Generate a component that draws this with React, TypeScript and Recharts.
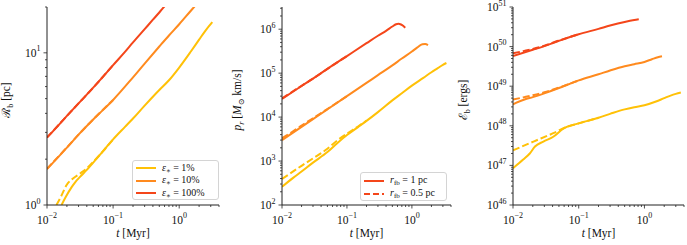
import { LineChart, Line, XAxis, YAxis, Legend } from "recharts";

type Pt = [number, number];

const YELLOW = "#ffc107";
const ORANGE = "#ff8a1e";
const RED = "#f4461a";
const SERIF = "'Liberation Serif', 'DejaVu Serif', serif";

// shared time axis range [Myr]
const tRange: [number, number] = [0.01, 4];

// --- panel 1: bubble radius R_b [pc]
const rbYellow: Pt[] = [
  [0.0166, 1.0], [0.019, 1.12], [0.0236, 1.31], [0.027, 1.42], [0.0316, 1.53],
  [0.04, 1.7], [0.05, 1.9], [0.07, 2.25], [0.1, 2.7], [0.15, 3.25], [0.2, 3.7],
  [0.3, 4.5], [0.5, 5.7], [0.7, 6.6], [1.0, 8.0], [1.5, 10.2], [2.0, 12.2],
  [2.5, 14.0], [3.17, 15.9],
];
const rbYellowDash: Pt[] = [
  [0.0139, 1.0], [0.0165, 1.15], [0.0197, 1.35], [0.025, 1.5], [0.0316, 1.61],
  [0.04, 1.74], [0.05, 1.92], [0.07, 2.25], [0.1, 2.7],
];
const rbOrange: Pt[] = [
  [0.01, 1.72], [0.015, 2.08], [0.02, 2.38], [0.03, 2.9], [0.05, 3.65], [0.07, 4.2],
  [0.1, 4.9], [0.2, 6.9], [0.3, 8.5], [0.5, 11.0], [0.7, 13.0], [1.0, 15.4],
  [1.5, 18.9], [1.8, 20.7],
];
const rbOrangeDash: Pt[] = [
  [0.01, 1.73], [0.015, 2.09], [0.02, 2.39], [0.03, 2.9], [0.05, 3.65], [0.1, 4.9],
];
const rbRed: Pt[] = [
  [0.01, 2.77], [0.015, 3.35], [0.02, 3.85], [0.03, 4.65], [0.05, 5.9], [0.07, 6.95],
  [0.1, 8.3], [0.15, 10.1], [0.2, 11.7], [0.3, 14.3], [0.4, 16.5], [0.5, 18.4],
  [0.6, 20.2], [0.65, 20.8],
];
const rbRedDash: Pt[] = [
  [0.01, 2.78], [0.015, 3.36], [0.02, 3.85], [0.03, 4.65], [0.05, 5.9], [0.1, 8.3],
];

// --- panel 2: radial momentum p_r [Msun km/s]
const prYellow: Pt[] = [
  [0.01, 260], [0.015, 420], [0.02, 580], [0.03, 920], [0.05, 1600], [0.07, 2500],
  [0.1, 3900], [0.15, 6000], [0.2, 8200], [0.3, 13000], [0.5, 24000], [0.7, 35000],
  [1.0, 52000], [1.5, 78000], [2.0, 105000], [2.5, 130000], [3.0, 155000], [3.4, 170000],
];
const prYellowDash: Pt[] = [
  [0.01, 390], [0.02, 780], [0.03, 1150], [0.05, 1900], [0.07, 2900], [0.1, 4200],
  [0.15, 6200], [0.2, 8300],
];
const prOrange: Pt[] = [
  [0.01, 3000], [0.02, 6000], [0.03, 9000], [0.05, 15000], [0.1, 30000], [0.2, 60000],
  [0.3, 90000], [0.5, 150000], [0.7, 215000], [1.0, 310000], [1.2, 380000],
  [1.45, 455000], [1.6, 460000], [1.77, 435000],
];
const prOrangeDash: Pt[] = [
  [0.01, 3300], [0.015, 4800], [0.02, 6400], [0.03, 9400], [0.05, 15300], [0.1, 30000],
];
const prRed: Pt[] = [
  [0.01, 26000], [0.02, 51000], [0.03, 75000], [0.05, 125000], [0.1, 245000],
  [0.2, 480000], [0.3, 710000], [0.4, 920000], [0.5, 1150000], [0.57, 1300000],
  [0.62, 1330000], [0.68, 1280000], [0.74, 1180000], [0.79, 1080000],
];
const prRedDash: Pt[] = [
  [0.01, 26500], [0.02, 51500], [0.03, 75000], [0.05, 125000], [0.1, 245000],
];

// --- panel 3: bubble energy E_b [erg]
const ebYellow: Pt[] = [
  [0.01, 8.5e46], [0.0143, 1.4e47], [0.018, 2.0e47], [0.0216, 3.0e47], [0.029, 4.0e47],
  [0.041, 5.3e47], [0.059, 8.6e47], [0.1, 1.15e48], [0.2, 1.6e48], [0.3, 2.0e48],
  [0.5, 2.6e48], [0.7, 2.95e48], [1.0, 3.3e48], [1.5, 4.1e48], [2.0, 5.0e48],
  [2.5, 5.8e48], [3.0, 6.4e48], [3.58, 6.9e48],
];
const ebYellowDash: Pt[] = [
  [0.01, 2.4e47], [0.0205, 4.0e47], [0.041, 6.5e47], [0.066, 9.4e47], [0.1, 1.15e48],
  [0.2, 1.6e48],
];
const ebOrange: Pt[] = [
  [0.01, 3.5e48], [0.015, 4.6e48], [0.02, 5.3e48], [0.03, 6.6e48], [0.05, 9.0e48],
  [0.07, 1.12e49], [0.1, 1.4e49], [0.2, 2.0e49], [0.3, 2.5e49], [0.5, 3.2e49],
  [0.7, 3.6e49], [1.0, 4.1e49], [1.3, 4.8e49], [1.6, 5.4e49], [1.85, 5.7e49],
];
const ebOrangeDash: Pt[] = [
  [0.01, 4.6e48], [0.015, 5.3e48], [0.02, 5.9e48], [0.03, 7.0e48], [0.05, 9.2e48],
  [0.1, 1.4e49],
];
const ebRed: Pt[] = [
  [0.01, 5.8e49], [0.02, 8.3e49], [0.03, 1.03e50], [0.05, 1.4e50], [0.07, 1.7e50],
  [0.1, 2.05e50], [0.2, 2.8e50], [0.3, 3.4e50], [0.5, 4.2e50], [0.7, 4.7e50], [0.82, 4.9e50],
];
const ebRedDash: Pt[] = [
  [0.01, 6.8e49], [0.015, 7.8e49], [0.02, 8.7e49], [0.03, 1.05e50], [0.05, 1.42e50],
  [0.1, 2.05e50],
];

const effLabels = ["1%", "10%", "100%"];
const effColors = [YELLOW, ORANGE, RED];
const rfbLabels = ["1 pc", "0.5 pc"];

const logTicks = (lo: number, hi: number) => {
  const out: number[] = [];
  for (let e = Math.floor(Math.log10(lo)); e <= Math.ceil(Math.log10(hi)); e++) {
    for (let m = 1; m < 10; m++) {
      const v = m * Math.pow(10, e);
      if (v >= lo * 0.999 && v <= hi * 1.001) out.push(v);
    }
  }
  return out;
};

const expOf = (v: number) => {
  const e = Math.round(Math.log10(v));
  const major = Math.abs(v / Math.pow(10, e) - 1) < 1e-6;
  return { e, major };
};
const expText = (e: number) => (e < 0 ? "\u2212" + -e : String(e));

const XTick = (p: any) => {
  const { x, y, payload } = p;
  const { e, major } = expOf(payload.value);
  return (
    <g>
      <line x1={x} x2={x} y1={y} y2={y + (major ? 3.5 : 2)} stroke="#222" strokeWidth={0.8} />
      {major && (
        <text x={x} y={y + 18.5} textAnchor="middle" fontFamily={SERIF} fontSize={11.5} fill="#111">
          10
          <tspan dy={-5.5} fontSize={8}>{expText(e)}</tspan>
        </text>
      )}
    </g>
  );
};

const YTick = (p: any) => {
  const { x, y, payload } = p;
  const { e, major } = expOf(payload.value);
  return (
    <g>
      <line x1={x} x2={x - (major ? 3.5 : 2)} y1={y} y2={y} stroke="#222" strokeWidth={0.8} />
      {major && (
        <text x={x - 6.5} y={y + 4} textAnchor="end" fontFamily={SERIF} fontSize={11.5} fill="#111">
          10
          <tspan dy={-5.5} fontSize={8}>{expText(e)}</tspan>
        </text>
      )}
    </g>
  );
};

const lineBox: React.CSSProperties = {
  border: "1px solid #d4d4d4",
  borderRadius: 3,
  background: "rgba(255,255,255,0.85)",
  padding: "1px 3px",
  fontFamily: SERIF,
  fontSize: 10,
  color: "#111",
  boxSizing: "border-box",
};

const Swatch = ({ color, dashed }: { color: string; dashed?: boolean }) => (
  <svg width={20} height={6} style={{ flex: "none" }}>
    <line x1={0} x2={20} y1={3} y2={3} stroke={color} strokeWidth={2} strokeDasharray={dashed ? "6 3" : undefined} />
  </svg>
);

const EffLegend = () => (
  <div style={{ ...lineBox, width: 87, height: 40 }}>
    {effLabels.map((lab, i) => (
      <div key={lab} style={{ display: "flex", alignItems: "center", height: 12.6, lineHeight: "12px" }}>
        <Swatch color={effColors[i]} />
        <span style={{ marginLeft: 6, whiteSpace: "nowrap" }}>
          <i>ε</i>
          <span style={{ fontSize: 7, position: "relative", top: 2 }}>∗</span> = {lab}
        </span>
      </div>
    ))}
  </div>
);

const RfbLegend = () => (
  <div style={{ ...lineBox, width: 87, height: 29 }}>
    {rfbLabels.map((lab, i) => (
      <div key={lab} style={{ display: "flex", alignItems: "center", height: 13, lineHeight: "12px" }}>
        <Swatch color={RED} dashed={i === 1} />
        <span style={{ marginLeft: 6, whiteSpace: "nowrap" }}>
          <i>r</i>
          <span style={{ fontSize: 7, position: "relative", top: 2 }}>fb</span> = {lab}
        </span>
      </div>
    ))}
  </div>
);

interface Series {
  pts: Pt[];
  color: string;
  dashed?: boolean;
}

interface PanelProps {
  left: number;
  width: number;
  yWidth: number;
  right: number;
  yDomain: [number, number];
  series: Series[];
  yLabel: React.ReactNode;
  yLabelX: number;
  legend?: React.ReactNode;
  legendPos?: { left: number; top: number };
}

const Panel = (p: PanelProps) => {
  const plotL = p.yWidth;
  const plotR = p.width - p.right;
  const xTicks = logTicks(tRange[0], tRange[1]);
  const yTicks = logTicks(p.yDomain[0], p.yDomain[1]);
  return (
    <div style={{ position: "absolute", left: p.left, top: 0 }}>
      <LineChart width={p.width} height={245} margin={{ top: 7, right: p.right, left: 0, bottom: 0 }}>
        <XAxis
          type="number"
          dataKey="t"
          scale="log"
          domain={tRange}
          allowDataOverflow
          ticks={xTicks}
          interval={0}
          tickSize={0}
          tickMargin={0}
          tick={XTick}
          height={40}
          stroke="#222"
          label={() => (
            <text x={(plotL + plotR) / 2} y={237} textAnchor="middle" fontFamily={SERIF} fontSize={11.5} fill="#111">
              <tspan fontStyle="italic">t</tspan> [Myr]
            </text>
          )}
        />
        <XAxis xAxisId="top" orientation="top" type="number" domain={[0, 1]} height={0} tick={false} tickLine={false} stroke="#222" />
        <YAxis
          type="number"
          scale="log"
          domain={p.yDomain}
          allowDataOverflow
          ticks={yTicks}
          interval={0}
          tickSize={0}
          tickMargin={0}
          tick={YTick}
          width={p.yWidth}
          stroke="#222"
          label={() => (
            <text
              x={p.yLabelX}
              y={100}
              transform={`rotate(-90 ${p.yLabelX} 100)`}
              textAnchor="middle"
              fontFamily={SERIF}
              fontSize={11.5}
              fill="#111"
            >
              {p.yLabel}
            </text>
          )}
        />
        <YAxis yAxisId="right" orientation="right" type="number" domain={[0, 1]} width={0} tick={false} tickLine={false} stroke="#222" />
        {p.series.map((s, i) => (
          <Line
            key={i}
            data={s.pts.map(([t, v]) => ({ t, v }))}
            dataKey="v"
            type="monotone"
            stroke={s.color}
            strokeWidth={2}
            strokeDasharray={s.dashed ? "7 3" : undefined}
            dot={false}
            activeDot={false}
            legendType="none"
            isAnimationActive={false}
          />
        ))}
        {p.legend && p.legendPos && (
          <Legend
            layout="vertical"
            align="center"
            verticalAlign="middle"
            content={() => p.legend}
            wrapperStyle={{ left: p.legendPos.left, top: p.legendPos.top, width: "auto", right: "auto", bottom: "auto" }}
          />
        )}
      </LineChart>
    </div>
  );
};

export default function App() {
  return (
    <div style={{ position: "absolute", left: 0, top: 0, width: 687, height: 245, background: "#fff" }}>
      <Panel
        left={0}
        width={230}
        yWidth={47}
        right={11}
        yDomain={[1, 20]}
        series={[
          { pts: rbYellowDash, color: YELLOW, dashed: true },
          { pts: rbYellow, color: YELLOW },
          { pts: rbOrangeDash, color: ORANGE, dashed: true },
          { pts: rbOrange, color: ORANGE },
          { pts: rbRedDash, color: RED, dashed: true },
          { pts: rbRed, color: RED },
        ]}
        yLabelX={10}
        yLabel={
          <>
            ℛ<tspan dy={3} fontSize={8}>b</tspan>
            <tspan dy={-3}> [pc]</tspan>
          </>
        }
        legend={<EffLegend />}
        legendPos={{ left: 132, top: 160 }}
      />
      <Panel
        left={228}
        width={227}
        yWidth={54}
        right={4}
        yDomain={[100, 3.2e6]}
        series={[
          { pts: prYellowDash, color: YELLOW, dashed: true },
          { pts: prYellow, color: YELLOW },
          { pts: prOrangeDash, color: ORANGE, dashed: true },
          { pts: prOrange, color: ORANGE },
          { pts: prRedDash, color: RED, dashed: true },
          { pts: prRed, color: RED },
        ]}
        yLabelX={13}
        yLabel={
          <>
            <tspan fontStyle="italic">p</tspan>
            <tspan dy={3} fontSize={8} fontStyle="italic">r</tspan>
            <tspan dy={-3}> [</tspan>
            <tspan fontStyle="italic">M</tspan>
            <tspan dy={3} fontSize={8}>⊙</tspan>
            <tspan dy={-3}> km/s]</tspan>
          </>
        }
        legend={<RfbLegend />}
        legendPos={{ left: 132, top: 172 }}
      />
      <Panel
        left={455}
        width={232}
        yWidth={58}
        right={3}
        yDomain={[1e46, 1e51]}
        series={[
          { pts: ebYellowDash, color: YELLOW, dashed: true },
          { pts: ebYellow, color: YELLOW },
          { pts: ebOrangeDash, color: ORANGE, dashed: true },
          { pts: ebOrange, color: ORANGE },
          { pts: ebRedDash, color: RED, dashed: true },
          { pts: ebRed, color: RED },
        ]}
        yLabelX={12}
        yLabel={
          <>
            ℰ<tspan dy={3} fontSize={8}>b</tspan>
            <tspan dy={-3}> [ergs]</tspan>
          </>
        }
      />
    </div>
  );
}
